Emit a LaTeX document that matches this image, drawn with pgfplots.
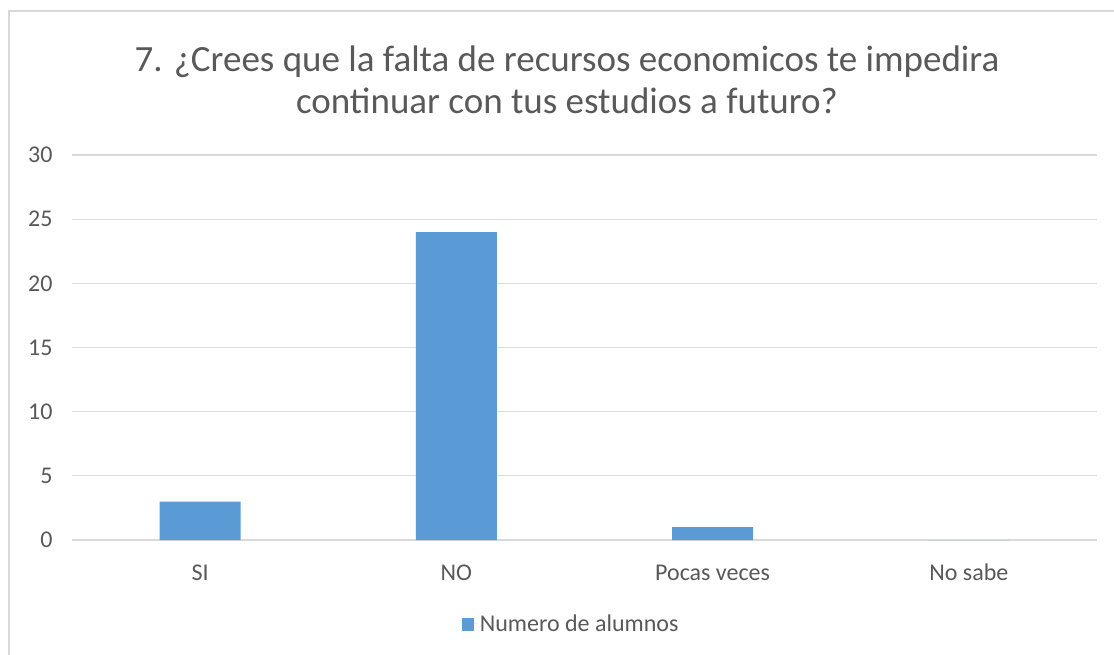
\documentclass[border=0pt]{standalone}
\usepackage{pgfplots}
\pgfplotsset{compat=1.18}
\usepackage{fontspec}
\setmainfont{Carlito}
\definecolor{barblue}{HTML}{5B9BD5}
\definecolor{txtgray}{HTML}{595959}
\definecolor{gridgray}{HTML}{D9D9D9}
\begin{document}
\begin{tikzpicture}[x=1pt,y=1pt]
\path[use as bounding box] (0pt,0pt) rectangle (1114pt,-655pt);
\fill[white] (0pt,0pt) rectangle (1114pt,-655pt);
\draw[gridgray, line width=2pt] (9pt,-655pt) -- (9pt,-11pt) -- (1114pt,-11pt);
\node[txtgray, align=center, font=\fontsize{37}{42}\selectfont] at (567pt,-80pt)
  {7. ¿Crees que la falta de recursos economicos te impedira\\continuar con tus estudios a futuro?};
\begin{axis}[
  at={(72pt,-540pt)}, anchor=south west,
  scale only axis, width=1025pt, height=385pt,
  ybar, bar width=81pt,
  xmin=-0.5, xmax=3.5, ymin=0, ymax=30,
  xtick={0,1,2,3}, xticklabels={SI,NO,Pocas veces,No sabe},
  ytick={0,5,10,15,20,25,30},
  axis line style={draw=none},
  major tick length=0pt,
  ymajorgrids, grid style={gridgray, line width=1.2pt},
  tick label style={txtgray, font=\fontsize{24}{28}\selectfont},
  /pgf/number format/assume math mode=true,
  yticklabel style={xshift=-16pt},
  xticklabel style={anchor=base, yshift=-40pt},
  legend style={at={(0.487,-0.218)}, anchor=center, draw=none, fill=none,
    font=\fontsize{24}{28}\selectfont, text=txtgray},
  legend image code/.code={\fill[barblue] (0pt,-7pt) rectangle (12pt,6pt);
     \path (0pt,0pt) -- (16pt,0pt);},
]
\addplot[fill=barblue, draw=none] coordinates {(0,3) (1,24) (2,1) (3,0)};
\addlegendentry{Numero de alumnos}
\end{axis}
\end{tikzpicture}
\end{document}
